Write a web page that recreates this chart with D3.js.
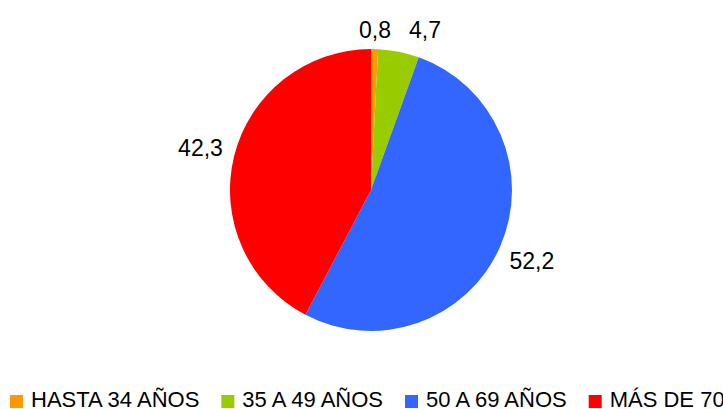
<!DOCTYPE html>
<html>
<head>
<meta charset="utf-8">
<script src="https://cdn.jsdelivr.net/npm/d3@7"></script>
<style>
  html, body { margin: 0; padding: 0; background: #fff; }
  svg { display: block; font-family: "Liberation Sans", Arial, sans-serif; }
</style>
</head>
<body>
<div id="chart"></div>
<script>
// data
var categories = ["HASTA 34 AÑOS", "35 A 49 AÑOS", "50 A 69 AÑOS", "MÁS DE 70"];
var values = [0.8, 4.7, 52.2, 42.3];
var colors = ["#ff9900", "#99cc00", "#3366ff", "#ff0000"];

var width = 723, height = 409;
var cx = 371, cy = 190, radius = 141;

var svg = d3.select("#chart").append("svg")
  .attr("width", width)
  .attr("height", height);

var pie = d3.pie().sort(null).value(function(d) { return d; });
var arcs = pie(values);

var arc = d3.arc().innerRadius(0).outerRadius(radius);

var g = svg.append("g").attr("transform", "translate(" + cx + "," + cy + ")");

g.selectAll("path.slice")
  .data(arcs)
  .enter().append("path")
  .attr("class", "slice")
  .attr("d", arc)
  .attr("fill", function(d, i) { return colors[i]; });

// labels: put the text box just outside the pie, along the mid angle
var fmt = function(v) { return d3.format(".1f")(v).replace(".", ","); };
var labelR = 152;
var labels = g.selectAll("text.lbl")
  .data(arcs)
  .enter().append("text")
  .attr("class", "lbl")
  .attr("font-size", "23px")
  .attr("fill", "#000")
  .attr("text-anchor", "middle")
  .attr("dominant-baseline", "central")
  .text(function(d) { return fmt(d.data); });

var boxes = [];
labels.each(function(d) {
  var a = (d.startAngle + d.endAngle) / 2;
  var s = Math.sin(a), c = -Math.cos(a);
  var bb = this.getBBox();
  var hw = bb.width / 2, hh = 8;
  var push = hw * Math.abs(s) + hh * Math.abs(c);
  var x = s * (labelR + push), y = c * (labelR + push);
  boxes.push({ el: this, x: x, y: y, hw: hw });
});
// nudge overlapping neighbours apart (small slices at the top)
for (var i = 1; i < boxes.length; i++) {
  var p = boxes[i - 1], b = boxes[i];
  var minX = p.x + p.hw + 18 + b.hw;
  if (Math.abs(b.y - p.y) < 20 && b.x < minX) {
    b.x = minX;
    b.y = p.y;
  }
}
boxes.forEach(function(b) {
  d3.select(b.el).attr("x", b.x).attr("y", b.y);
});

// legend along the bottom
var legend = svg.append("g").attr("class", "legend");
var lx = 10;
categories.forEach(function(name, i) {
  var item = legend.append("g").attr("transform", "translate(" + lx + ",0)");
  item.append("rect")
    .attr("x", 0)
    .attr("y", 395)
    .attr("width", 13)
    .attr("height", 13)
    .attr("fill", colors[i]);
  var t = item.append("text")
    .attr("x", 21)
    .attr("y", 407)
    .attr("font-size", "22px")
    .attr("fill", "#000")
    .text(name);
  lx += 21 + t.node().getComputedTextLength() + 22;
});
</script>
</body>
</html>
